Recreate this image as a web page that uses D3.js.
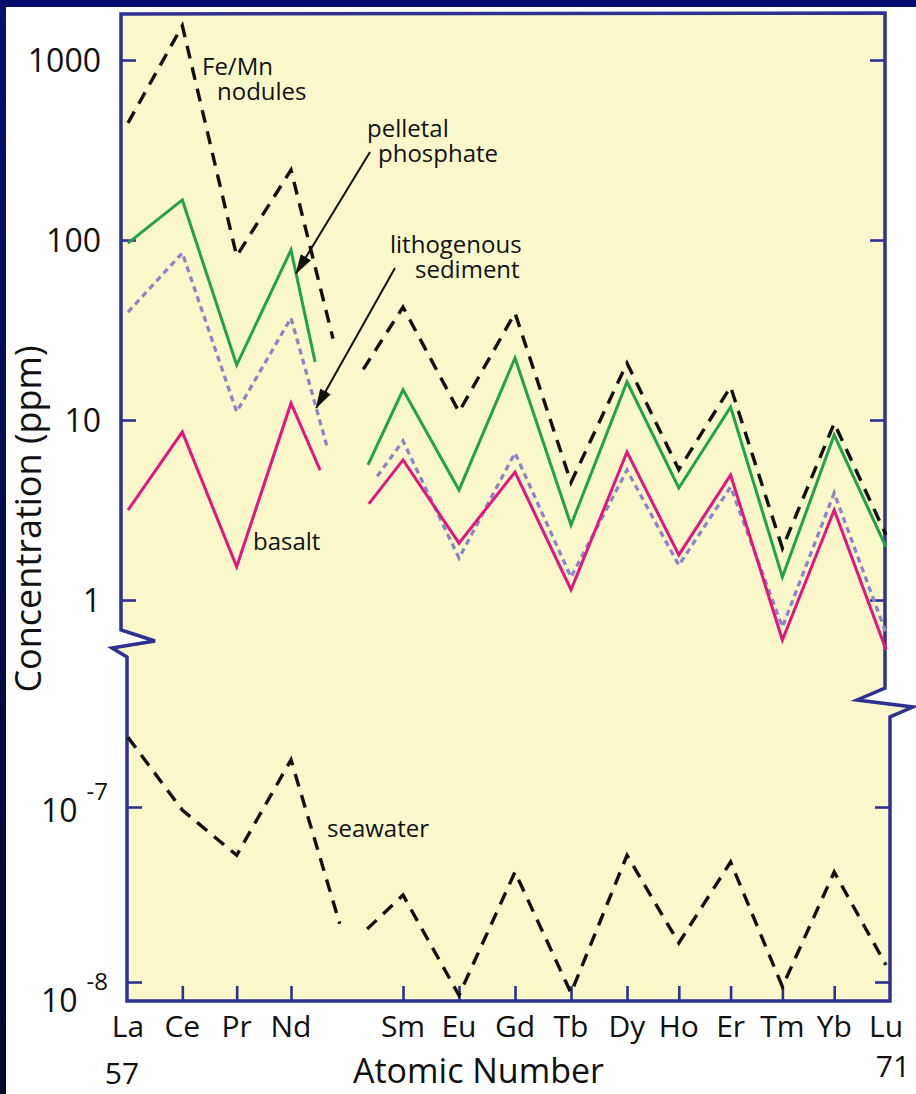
<!DOCTYPE html>
<html>
<head>
<meta charset="utf-8">
<script src="https://cdn.jsdelivr.net/npm/d3@7"></script>
<style>
  html, body { margin: 0; padding: 0; background: #ffffff; }
  svg { display: block; font-family: "Open Sans", "DejaVu Sans", sans-serif; }
</style>
</head>
<body>
<svg id="chart" width="916" height="1094"></svg>
<script>
// ---- Data: rare earth element concentrations (ppm) ----
const elements      = ["La","Ce","Pr","Nd","Pm","Sm","Eu","Gd","Tb","Dy","Ho","Er","Tm","Yb","Lu"];
const atomicNumbers = [57, 58, 59, 60, 61, 62, 63, 64, 65, 66, 67, 68, 69, 70, 71];

const feMnNodules         = [447, 1550, 81.5, 245, 13.8, 42.4, 11.1, 39.3, 4.5, 20.7, 5.3, 15.3, 1.94, 9.6, 2.3];
const pelletalPhosphate   = [96, 167, 20.2, 88, 3.16, 14.7, 4.08, 22.1, 2.61, 16.3, 4.19, 11.8, 1.34, 8.25, 1.97];
const lithogenousSediment = [39.8, 84.7, 11.1, 36.9, 2.86, 7.65, 1.71, 6.56, 1.34, 5.27, 1.56, 4.25, 0.708, 3.93, 0.656];
const basalt              = [3.16, 8.58, 1.53, 12.4, 2.39, 6.0, 2.07, 5.14, 1.14, 6.64, 1.78, 4.95, 0.60, 3.16, 0.53];
const seawater            = [2.5e-7, 9.6e-8, 5.3e-8, 1.86e-7, 1.56e-8, 3.14e-8, 8.4e-9, 4.25e-8, 8.65e-9, 5.3e-8, 1.67e-8, 4.85e-8, 9.4e-9, 4.25e-8, 1.25e-8];

// Axis ticks
const upperTicks       = [1, 10, 100, 1000];
const upperTickLabels  = ["1", "10", "100", "1000"];
const lowerTicks       = [1e-8, 1e-7];
const lowerTickExps    = ["-8", "-7"];
const firstAtomic = 57, lastAtomic = 71;

// ---- Layout ----
const svg = d3.select("#chart");
const W = 916, H = 1094;
const frame = { top: 14, leftUp: 121, leftLo: 127, rightUp: 885, rightLo: 890, bottom: 1001 };

const x = d3.scaleLinear().domain([57, 60, 66, 71]).range([128, 291, 627, 886]);
const yUp = d3.scaleLog().domain([1, 1000]).range([600, 60]);
const yLo = d3.scaleLog().domain([1e-8, 1e-7]).range([982, 807]);

const axisBlue = "#2e3192";
const paper = "#faf8ca";

// Dark slide border (top band and left strip)
const defs = svg.append("defs");
const grad = defs.append("linearGradient").attr("id", "edge").attr("x1", 0).attr("y1", 0).attr("x2", 0).attr("y2", 1);
grad.append("stop").attr("offset", "0%").attr("stop-color", "#06106e");
grad.append("stop").attr("offset", "100%").attr("stop-color", "#04082a");
svg.append("rect").attr("x", 0).attr("y", 0).attr("width", W).attr("height", 7).attr("fill", "#030c6c");
svg.append("rect").attr("x", 0).attr("y", 0).attr("width", 6).attr("height", H).attr("fill", "url(#edge)");

// Arrowhead marker
defs.append("marker")
  .attr("id", "arrowhead").attr("markerUnits", "userSpaceOnUse")
  .attr("viewBox", "0 0 20 12").attr("refX", 19).attr("refY", 6)
  .attr("markerWidth", 20).attr("markerHeight", 12).attr("orient", "auto")
  .append("path").attr("d", "M0,0 L20,6 L0,12 Z").attr("fill", "#111");

// Plot frame with broken-axis zigzags
const framePts = [
  [frame.leftUp, frame.top], [frame.rightUp, frame.top - 1],
  [frame.rightUp, 688], [857, 700], [913, 707], [frame.rightLo, 717],
  [frame.rightLo, frame.bottom], [frame.leftLo, frame.bottom],
  [frame.leftLo, 657], [112, 648], [155, 641], [frame.leftUp, 630]
];
svg.append("path")
  .attr("d", d3.line()(framePts) + "Z")
  .attr("fill", paper)
  .attr("stroke", axisBlue).attr("stroke-width", 3.5)
  .attr("stroke-linejoin", "miter");

// Tick marks through d3 axes (inward ticks, no domain line)
function ticksOnly(g, axis) {
  g.call(axis);
  g.select(".domain").remove();
  g.selectAll(".tick line").attr("stroke", axisBlue).attr("stroke-width", 2.6);
}
svg.append("g").attr("transform", `translate(${frame.leftUp},0)`)
  .call(g => ticksOnly(g, d3.axisRight(yUp).tickValues(upperTicks).tickSize(15).tickFormat("")));
svg.append("g").attr("transform", `translate(${frame.rightUp},0)`)
  .call(g => ticksOnly(g, d3.axisLeft(yUp).tickValues(upperTicks).tickSize(15).tickFormat("")));
svg.append("g").attr("transform", `translate(${frame.leftLo},0)`)
  .call(g => ticksOnly(g, d3.axisRight(yLo).tickValues(lowerTicks).tickSize(15).tickFormat("")));
svg.append("g").attr("transform", `translate(${frame.rightLo},0)`)
  .call(g => ticksOnly(g, d3.axisLeft(yLo).tickValues(lowerTicks).tickSize(15).tickFormat("")));

const innerAtoms = atomicNumbers.filter((a, i) => a !== firstAtomic && a !== lastAtomic && elements[i] !== "Pm");
svg.append("g").attr("transform", `translate(0,${frame.bottom})`)
  .call(g => ticksOnly(g, d3.axisTop(x).tickValues(innerAtoms).tickSize(15).tickFormat("")));

// Y tick labels
const labelFont = 32;
svg.append("g").selectAll("text").data(upperTicks).join("text")
  .attr("x", 101).attr("y", d => yUp(d) + 12)
  .attr("text-anchor", "end").attr("font-size", labelFont).attr("fill", "#111")
  .text((d, i) => upperTickLabels[i]);

const lowerLabelShift = [30, 15];
lowerTicks.forEach((t, i) => {
  const base = yLo(t) + lowerLabelShift[i];
  const label = svg.append("text").attr("x", 79).attr("y", base)
    .attr("text-anchor", "end").attr("font-size", labelFont).attr("fill", "#111");
  label.append("tspan").text("10");
  label.append("tspan").attr("dx", 9).attr("dy", -22).attr("font-size", 24).text(lowerTickExps[i]);
  label.attr("text-anchor", null).attr("x", 41);
});

// X tick labels (element symbols)
svg.append("g").selectAll("text")
  .data(atomicNumbers.map((a, i) => ({ a, s: elements[i] })).filter(d => d.s !== "Pm"))
  .join("text")
  .attr("x", d => x(d.a)).attr("y", 1037)
  .attr("text-anchor", "middle").attr("font-size", 30).attr("fill", "#111")
  .text(d => d.s);
svg.append("text").attr("x", x(firstAtomic) - 6).attr("y", 1084)
  .attr("text-anchor", "middle").attr("font-size", 30).attr("fill", "#111").text(firstAtomic);
svg.append("text").attr("x", x(lastAtomic) + 7).attr("y", 1077)
  .attr("text-anchor", "middle").attr("font-size", 30).attr("fill", "#111").text(lastAtomic);

// Axis titles
svg.append("text").attr("x", 353).attr("y", 1083)
  .attr("font-size", 34).attr("fill", "#111").text("Atomic Number");
svg.append("text").attr("transform", "translate(41,519) rotate(-90)")
  .attr("text-anchor", "middle").attr("font-size", 36).attr("fill", "#111")
  .text("Concentration (ppm)");

// ---- Series ----
// Pm (61) is not plotted: each curve stops part-way toward it and resumes before Sm.
const series = [
  { name: "lithogenous", values: lithogenousSediment, y: yUp, color: "#8a86c8", width: 3.3, dash: "6 4.5", gap: [60.66, 61.54] },
  { name: "basalt",      values: basalt,              y: yUp, color: "#e3157e", width: 3,   dash: null,    gap: [60.52, 61.39] },
  { name: "phosphate",   values: pelletalPhosphate,   y: yUp, color: "#21a24b", width: 3,   dash: null,    gap: [60.43, 61.375] },
  { name: "feMn",        values: feMnNodules,         y: yUp, color: "#111111", width: 3.4, dash: "13 9",  gap: [60.75, 61.29] },
  { name: "seawater",    values: seawater,            y: yLo, color: "#111111", width: 3.4, dash: "13 9",  gap: [60.87, 61.36] }
];

const line = d3.line();
const pmIdx = elements.indexOf("Pm");

function pointsOf(s) {
  return atomicNumbers.map((a, i) => [x(a), s.y(s.values[i])]);
}
function along(p0, p1, t) {
  return [p0[0] + (p1[0] - p0[0]) * t, p0[1] + (p1[1] - p0[1]) * t];
}

series.forEach(s => {
  const pts = pointsOf(s);
  const tL = s.gap[0] - atomicNumbers[pmIdx - 1];
  const tR = s.gap[1] - atomicNumbers[pmIdx];
  const left = pts.slice(0, pmIdx).concat([along(pts[pmIdx - 1], pts[pmIdx], tL)]);
  const right = [along(pts[pmIdx], pts[pmIdx + 1], tR)].concat(pts.slice(pmIdx + 1));
  [left, right].forEach(part => {
    svg.append("path")
      .attr("d", line(part))
      .attr("fill", "none")
      .attr("stroke", s.color).attr("stroke-width", s.width)
      .attr("stroke-dasharray", s.dash)
      .attr("stroke-linejoin", "miter");
  });
  s.pts = pts;
});

// ---- Annotations ----
const annoFont = 24;
const labels = [
  { lines: ["Fe/Mn", "nodules"],         x: [202, 217], y: 75 },
  { lines: ["pelletal", "phosphate"],    x: [367, 378], y: 137 },
  { lines: ["lithogenous", "sediment"],  x: [390, 415], y: 253 },
  { lines: ["basalt"],                   x: [253],      y: 550 },
  { lines: ["seawater"],                 x: [327],      y: 837 }
];
labels.forEach(l => {
  const t = svg.append("text").attr("font-size", annoFont).attr("fill", "#111")
    .attr("x", l.x[0]).attr("y", l.y);
  l.lines.forEach((s, i) => {
    t.append("tspan").attr("x", l.x[i]).attr("dy", i === 0 ? 0 : 25).text(s);
  });
});

function pointOn(name, atomic) {
  const s = series.find(d => d.name === name);
  const i = pmIdx - 1;
  return along(s.pts[i], s.pts[i + 1], atomic - atomicNumbers[i]);
}
const arrows = [
  { from: [370, 152], to: pointOn("phosphate", 60.09) },
  { from: [395, 268], to: pointOn("lithogenous", 60.45) }
];
arrows.forEach(a => {
  svg.append("line")
    .attr("x1", a.from[0]).attr("y1", a.from[1])
    .attr("x2", a.to[0]).attr("y2", a.to[1])
    .attr("stroke", "#111").attr("stroke-width", 2)
    .attr("marker-end", "url(#arrowhead)");
});
</script>
</body>
</html>
